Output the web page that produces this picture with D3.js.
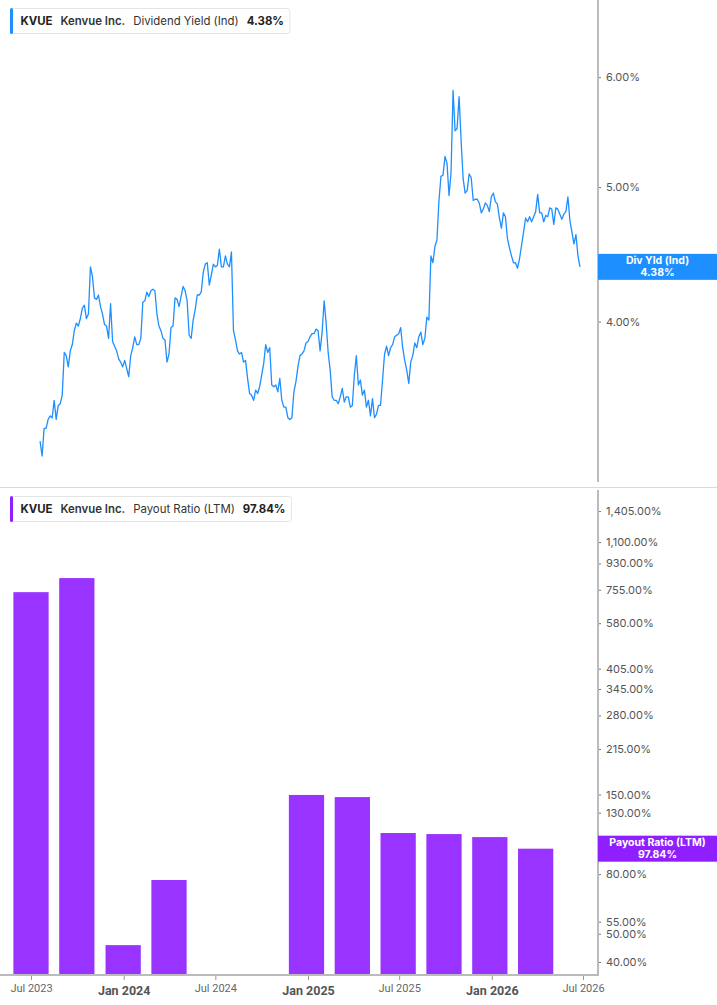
<!DOCTYPE html>
<html><head><meta charset="utf-8">
<script src="https://cdn.jsdelivr.net/npm/d3@7"></script>
<style>body{margin:0;background:#fff;} svg{display:block;font-family:Inter,"Noto Sans",sans-serif;}</style>
</head><body><svg id="c" width="717" height="1005"></svg>
<script>
const ticker = "KVUE", company = "Kenvue Inc.";
const divLabel = "Dividend Yield (Ind)", divShort = "Div Yld (Ind)";
const divStart = "2023-07-19", divStepDays = 4;
const divYield = [
3.28,3.20,3.35,3.35,3.40,3.42,3.41,3.51,3.40,3.48,
3.49,3.54,3.80,3.78,3.71,3.81,3.85,3.94,3.99,3.97,
4.02,4.09,4.11,4.02,4.05,4.38,4.31,4.16,4.15,4.18,
4.10,4.05,3.98,3.97,3.89,4.12,3.87,3.84,3.81,3.76,
3.74,3.71,3.75,3.70,3.65,3.78,3.83,3.90,3.85,3.85,
3.89,4.13,4.14,4.20,4.17,4.21,4.22,4.21,4.05,3.97,
3.94,3.89,3.88,3.74,3.79,3.96,3.97,4.16,4.15,4.10,
4.17,4.24,4.21,4.14,3.91,3.89,4.01,4.08,4.18,4.18,
4.20,4.34,4.40,4.41,4.25,4.32,4.40,4.38,4.39,4.51,
4.38,4.38,4.46,4.40,4.38,4.49,3.94,3.88,3.81,3.79,
3.80,3.74,3.75,3.64,3.55,3.54,3.51,3.57,3.55,3.59,
3.66,3.73,3.85,3.80,3.83,3.60,3.59,3.60,3.56,3.64,
3.51,3.47,3.47,3.41,3.40,3.41,3.56,3.62,3.71,3.78,
3.79,3.81,3.86,3.87,3.90,3.92,3.92,3.95,3.94,3.81,
3.93,4.14,3.99,3.80,3.69,3.53,3.51,3.51,3.49,3.53,
3.58,3.50,3.53,3.53,3.47,3.48,3.66,3.78,3.60,3.63,
3.54,3.57,3.47,3.51,3.42,3.52,3.41,3.43,3.48,3.48,
3.63,3.79,3.84,3.78,3.83,3.85,3.90,3.91,3.92,3.96,
3.83,3.75,3.69,3.61,3.74,3.78,3.86,3.83,3.90,3.93,
3.85,3.89,4.03,4.01,4.46,4.41,4.53,4.58,4.89,5.09,
5.10,5.26,5.20,4.93,5.12,5.87,5.49,5.51,5.81,5.40,
5.07,4.95,4.97,5.11,5.08,4.89,4.90,4.90,4.87,4.79,
4.82,4.87,4.85,4.80,4.92,4.95,4.88,4.86,4.75,4.67,
4.79,4.76,4.59,4.52,4.46,4.41,4.41,4.37,4.44,4.54,
4.64,4.75,4.72,4.76,4.72,4.76,4.80,4.94,4.79,4.79,
4.72,4.77,4.76,4.83,4.82,4.70,4.83,4.82,4.78,4.74,
4.78,4.80,4.92,4.73,4.64,4.55,4.62,4.46,4.38
];
const divLast = 4.38;

const payoutLabel = "Payout Ratio (LTM)";
const payoutDates = ["2023-07-01","2023-09-30","2023-12-31","2024-03-31","2024-12-29",
                     "2025-03-30","2025-06-29","2025-09-28","2025-12-28","2026-03-29"];
const payoutRatio = [741, 828, 45.7, 76.4, 149.5, 147, 110.7, 109.8, 107.2, 97.84];
const payoutLast = 97.84;

const divTicks = [4, 5, 6];
const payoutTicks = [40, 50, 55, 80, 105, 130, 150, 215, 280, 345, 405, 580, 755, 930, 1100, 1405];
const xTickDates = ["2023-07-01","2024-01-01","2024-07-01","2025-01-01","2025-07-01","2026-01-01","2026-07-01"];

const BLUE = "#1e8fff", PURPLE_BAR = "#9933ff", PURPLE = "#8f1fff";
const parse = d3.utcParse("%Y-%m-%d");
const svg = d3.select("#c");

const x = d3.scaleUtc().domain([parse("2023-07-01"), parse("2026-07-01")]).range([31, 583]);
const yTop = d3.scaleLog().domain([3.07, 6.82]).range([481, 0]);
const yBot = d3.scaleLog().domain([36.1, 1686]).range([975, 488]);
const AX = 598;

// divider
svg.append("line").attr("x1",0).attr("x2",717).attr("y1",487.5).attr("y2",487.5).attr("stroke","#d9d9d9");

// top line
const t0 = parse(divStart);
const divData = divYield.map((v,i)=>({d:d3.utcDay.offset(t0, i*divStepDays), v}));
svg.append("path").datum(divData)
  .attr("fill","none").attr("stroke",BLUE).attr("stroke-width",1.3).attr("stroke-linejoin","round")
  .attr("d", d3.line().x(d=>x(d.d)).y(d=>yTop(d.v)));

// bars
const half = 35;
svg.append("g").selectAll("rect").data(payoutDates.map((d,i)=>({d:parse(d), v:payoutRatio[i]})))
  .join("rect")
  .attr("x", d=>x(d3.utcDay.offset(d.d,-half)))
  .attr("width", d=>x(d3.utcDay.offset(d.d,half)) - x(d3.utcDay.offset(d.d,-half)))
  .attr("y", d=>yBot(d.v))
  .attr("height", d=>975 - yBot(d.v))
  .attr("fill", PURPLE_BAR);

// y axes
function styleAxis(g){
  g.select(".domain").remove();
  g.selectAll(".tick line").attr("stroke","#777");
  g.selectAll(".tick text").attr("fill","#555").attr("font-size","11px").attr("font-family","Inter, sans-serif");
}
svg.append("g").attr("transform",`translate(${AX},0)`)
  .call(d3.axisRight(yTop).tickValues(divTicks).tickSize(3).tickPadding(5).tickFormat(d=>d3.format(",.2f")(d)+"%"))
  .call(styleAxis);
svg.append("g").attr("transform",`translate(${AX},0)`)
  .call(d3.axisRight(yBot).tickValues(payoutTicks).tickSize(3).tickPadding(5).tickFormat(d=>d3.format(",.2f")(d)+"%"))
  .call(styleAxis);
svg.append("line").attr("x1",AX).attr("x2",AX).attr("y1",0).attr("y2",482).attr("stroke","#bbb").attr("stroke-width",2);
svg.append("line").attr("x1",AX).attr("x2",AX).attr("y1",490).attr("y2",976).attr("stroke","#bbb").attr("stroke-width",2);

// x axis
const xg = svg.append("g").attr("transform","translate(0,975)")
  .call(d3.axisBottom(x).tickValues(xTickDates.map(parse)).tickSize(5).tickPadding(4)
        .tickFormat(d=>d3.utcFormat("%b %Y")(d)));
xg.select(".domain").remove();
xg.selectAll(".tick line").attr("stroke","#999");
xg.selectAll(".tick text").each(function(d){
  const jan = d.getUTCMonth()===0;
  d3.select(this).attr("fill", jan?"#555":"#666")
    .attr("font-weight", jan?"700":"400")
    .attr("font-size", jan?"12.5px":"11px")
    .attr("font-family","Roboto, sans-serif")
    .attr("dy", jan?"0.9em":"0.75em");
});
svg.append("line").attr("x1",0).attr("x2",AX+1).attr("y1",975).attr("y2",975).attr("stroke","#bbb").attr("stroke-width",2);

// value labels on axis
function valueLabel(cy, color, l1, l2){
  const g = svg.append("g");
  g.append("rect").attr("x",AX).attr("y",cy-13).attr("width",717-AX).attr("height",26).attr("fill",color);
  g.append("text").attr("x",(AX+717)/2).attr("y",cy-2.5).attr("text-anchor","middle")
    .attr("fill","#fff").attr("font-weight","700").attr("font-size","10.5px").text(l1);
  g.append("text").attr("x",(AX+717)/2).attr("y",cy+9).attr("text-anchor","middle")
    .attr("fill","#fff").attr("font-weight","700").attr("font-size","10.5px").text(l2);
}
valueLabel(yTop(divLast), BLUE, divShort, d3.format(".2f")(divLast)+"%");
valueLabel(yBot(payoutLast), PURPLE, payoutLabel, d3.format(".2f")(payoutLast)+"%");

// legends
function legend(y0, color, label, val){
  const g = svg.append("g");
  const box = g.append("rect").attr("x",10.5).attr("y",y0+0.5).attr("height",25).attr("rx",3)
    .attr("fill","#fff").attr("stroke","#e4e4e4");
  g.append("rect").attr("x",10).attr("y",y0).attr("width",3).attr("height",26).attr("rx",1.5).attr("fill",color);
  const parts = [[ticker,"700","#222"],[company,"600","#333"],[label,"400","#333"],[val,"700","#222"]];
  let cx = 20.5;
  parts.forEach(([t,w,c], i)=>{
    const tx = g.append("text").attr("x",cx).attr("y",y0+17).attr("font-size","11.4px")
      .attr("font-weight",w).attr("fill",c).text(t);
    cx += tx.node().getComputedTextLength() + (i < parts.length-1 ? 8 : 0);
  });
  box.attr("width", cx + 6 - 10.5);
}
legend(8, BLUE, divLabel, d3.format(".2f")(divLast)+"%");
legend(496, PURPLE, payoutLabel, d3.format(".2f")(payoutLast)+"%");
</script></body></html>
